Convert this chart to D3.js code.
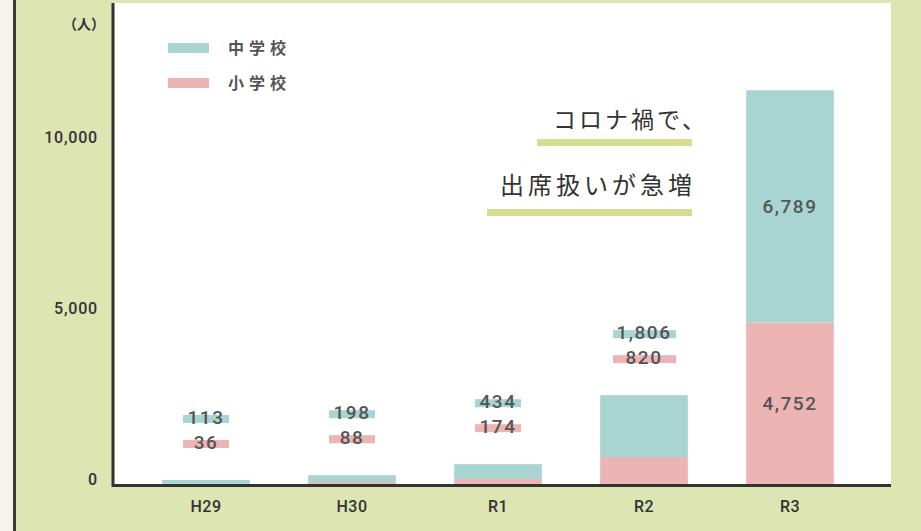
<!DOCTYPE html>
<html>
<head>
<meta charset="utf-8">
<script src="https://cdn.jsdelivr.net/npm/d3@7"></script>
<style>
  body { margin: 0; background: #f7f5ea; }
  svg { display: block; }
</style>
</head>
<body>
<div class="viz"></div>
<script>
var years = ["H29", "H30", "R1", "R2", "R3"];
var elementary = [36, 88, 174, 820, 4752];   // 小学校
var juniorHigh = [113, 198, 434, 1806, 6789]; // 中学校
var yTicks = [0, 5000, 10000];
var seriesNames = ["中学校", "小学校"];
var noteLines = ["コロナ禍で、", "出席扱いが急増"];

var w = 921;
var h = 531;
var teal = "#a8d4d2";
var pink = "#ecb4b3";
var green = "#dde5b3";
var numFont = "Roboto, 'DejaVu Sans', sans-serif";
var jpFont = "'Noto Sans CJK JP', 'Noto Sans', sans-serif";

var plotLeft = 114, plotRight = 891, baseY = 485;

var svg = d3.select(".viz")
    .append("svg")
    .attr("width", w)
    .attr("height", h);

// backgrounds
svg.append("rect").attr("x", 0).attr("y", 0).attr("width", w).attr("height", h).attr("fill", "#f7f5ea");
svg.append("rect").attr("x", 16).attr("y", 0).attr("width", w - 16).attr("height", h).attr("fill", green);
svg.append("rect").attr("x", 13).attr("y", 0).attr("width", 3).attr("height", h).attr("fill", "#3a3a3a");
svg.append("rect").attr("x", plotLeft).attr("y", 3).attr("width", plotRight - plotLeft).attr("height", baseY - 3).attr("fill", "#fff");

var xScale = d3.scaleBand()
    .domain(years)
    .range([133, 863])
    .paddingInner(0.4)
    .paddingOuter(0.2);

var yScale = d3.scaleLinear()
    .domain([0, 10000])
    .range([baseY, baseY - 342]);

var stacked = years.map(function(d, i) {
    return { year: d, el: elementary[i], jh: juniorHigh[i], total: elementary[i] + juniorHigh[i] };
});

// bars: 小学校 bottom, 中学校 on top
svg.selectAll("rect.el")
    .data(stacked)
    .enter()
    .append("rect")
    .attr("class", "el")
    .attr("x", function(d) { return xScale(d.year); })
    .attr("y", function(d) { return yScale(d.el); })
    .attr("width", xScale.bandwidth())
    .attr("height", function(d) { return baseY - yScale(d.el); })
    .attr("fill", pink);

svg.selectAll("rect.jh")
    .data(stacked)
    .enter()
    .append("rect")
    .attr("class", "jh")
    .attr("x", function(d) { return xScale(d.year); })
    .attr("y", function(d) { return yScale(d.total); })
    .attr("width", xScale.bandwidth())
    .attr("height", function(d) { return yScale(d.el) - yScale(d.total); })
    .attr("fill", teal);

// value labels
var fmt = d3.format(",");
var small = stacked.slice(0, 4);
var big = stacked[4];

var labelRows = [
    { key: "jh", color: teal, off: -62 },
    { key: "el", color: pink, off: -37 }
];
labelRows.forEach(function(r) {
    svg.selectAll("rect.hl-" + r.key)
        .data(small)
        .enter()
        .append("rect")
        .attr("class", "hl-" + r.key)
        .attr("x", function(d) { return xScale(d.year) + xScale.bandwidth() / 2 - (d.total > 1000 ? 31 : 23); })
        .attr("y", function(d) { return yScale(d.total) + r.off - 3; })
        .attr("width", function(d) { return d.total > 1000 ? 63 : 46; })
        .attr("height", 8)
        .attr("fill", r.color);

    svg.selectAll("text.lb-" + r.key)
        .data(small)
        .enter()
        .append("text")
        .attr("class", "lb-" + r.key)
        .attr("x", function(d) { return xScale(d.year) + xScale.bandwidth() / 2; })
        .attr("y", function(d) { return yScale(d.total) + r.off - 1; })
        .attr("dy", "0.35em")
        .attr("text-anchor", "middle")
        .attr("font-family", numFont)
        .attr("font-weight", 500)
        .attr("font-size", "19px")
        .attr("letter-spacing", "1.5px")
        .attr("fill", "#555")
        .text(function(d) { return fmt(d[r.key]); });
});

svg.append("text")
    .attr("x", xScale(big.year) + xScale.bandwidth() / 2)
    .attr("y", (yScale(big.total) + yScale(big.el)) / 2)
    .attr("dy", "0.35em")
    .attr("text-anchor", "middle")
    .attr("font-family", numFont)
    .attr("font-weight", 500)
    .attr("font-size", "19px")
    .attr("letter-spacing", "1.5px")
    .attr("fill", "#555")
    .text(fmt(big.jh));

svg.append("text")
    .attr("x", xScale(big.year) + xScale.bandwidth() / 2)
    .attr("y", (yScale(big.el) + baseY) / 2)
    .attr("dy", "0.35em")
    .attr("text-anchor", "middle")
    .attr("font-family", numFont)
    .attr("font-weight", 500)
    .attr("font-size", "19px")
    .attr("letter-spacing", "1.5px")
    .attr("fill", "#555")
    .text(fmt(big.el));

//// AXES ////
var xAxis = d3.axisBottom(xScale).tickSize(0).tickPadding(16);
var yAxis = d3.axisLeft(yScale).tickValues(yTicks).tickSize(0).tickPadding(16).tickFormat(fmt);

var gx = svg.append("g")
    .attr("class", "x axis")
    .attr("transform", "translate(0," + baseY + ")")
    .call(xAxis);
gx.select(".domain").remove();
gx.selectAll("text")
    .attr("font-family", numFont)
    .attr("font-weight", 500)
    .attr("font-size", "16px")
    .attr("letter-spacing", "0.5px")
    .attr("fill", "#333");

var gy = svg.append("g")
    .attr("class", "y axis")
    .attr("transform", "translate(" + plotLeft + ",0)")
    .call(yAxis);
gy.select(".domain").remove();
gy.selectAll("text")
    .attr("dy", "-0.05em")
    .attr("font-family", numFont)
    .attr("font-weight", 500)
    .attr("font-size", "16px")
    .attr("letter-spacing", "0.8px")
    .attr("fill", "#333");

// axis lines
svg.append("line")
    .attr("x1", plotLeft - 1).attr("x2", plotLeft - 1)
    .attr("y1", 3).attr("y2", baseY + 2)
    .attr("stroke", "#333").attr("stroke-width", 3);
svg.append("line")
    .attr("x1", plotLeft - 2).attr("x2", plotRight)
    .attr("y1", baseY + 0.5).attr("y2", baseY + 0.5)
    .attr("stroke", "#333").attr("stroke-width", 3);

svg.append("text")
    .attr("x", 105)
    .attr("y", 24)
    .attr("dy", "0.35em")
    .attr("text-anchor", "end")
    .attr("font-family", jpFont)
    .attr("font-weight", 700)
    .attr("font-size", "14px")
    .attr("fill", "#333")
    .text("（人）");

//// LEGEND ////
var legend = svg.selectAll("g.legend")
    .data(seriesNames)
    .enter()
    .append("g")
    .attr("class", "legend")
    .attr("transform", function(d, i) { return "translate(168," + (48 + i * 35) + ")"; });
legend.append("rect")
    .attr("x", 0).attr("y", -5)
    .attr("width", 41).attr("height", 10)
    .attr("fill", function(d, i) { return i === 0 ? teal : pink; });
legend.append("text")
    .attr("x", 60)
    .attr("y", 0)
    .attr("dy", "0.35em")
    .attr("font-family", jpFont)
    .attr("font-weight", 700)
    .attr("font-size", "16px")
    .attr("letter-spacing", "5px")
    .attr("fill", "#555")
    .text(function(d) { return d; });

//// NOTE ////
var notes = svg.selectAll("g.note")
    .data(noteLines)
    .enter()
    .append("g")
    .attr("class", "note");
notes.append("rect")
    .attr("x", function(d, i) { return i === 0 ? 537 : 487; })
    .attr("y", function(d, i) { return 139 + i * 70; })
    .attr("width", function(d, i) { return i === 0 ? 155 : 205; })
    .attr("height", 7)
    .attr("fill", "#d4dd92");
notes.append("text")
    .attr("x", function(d, i) { return i === 0 ? 708 : 696; })
    .attr("y", function(d, i) { return 120 + i * 66; })
    .attr("dy", "0.35em")
    .attr("text-anchor", "end")
    .attr("font-family", jpFont)
    .attr("font-size", function(d, i) { return i === 0 ? "23px" : "24px"; })
    .attr("letter-spacing", function(d, i) { return i === 0 ? "3px" : "4px"; })
    .attr("fill", "#333")
    .text(function(d) { return d; });
</script>
</body>
</html>
